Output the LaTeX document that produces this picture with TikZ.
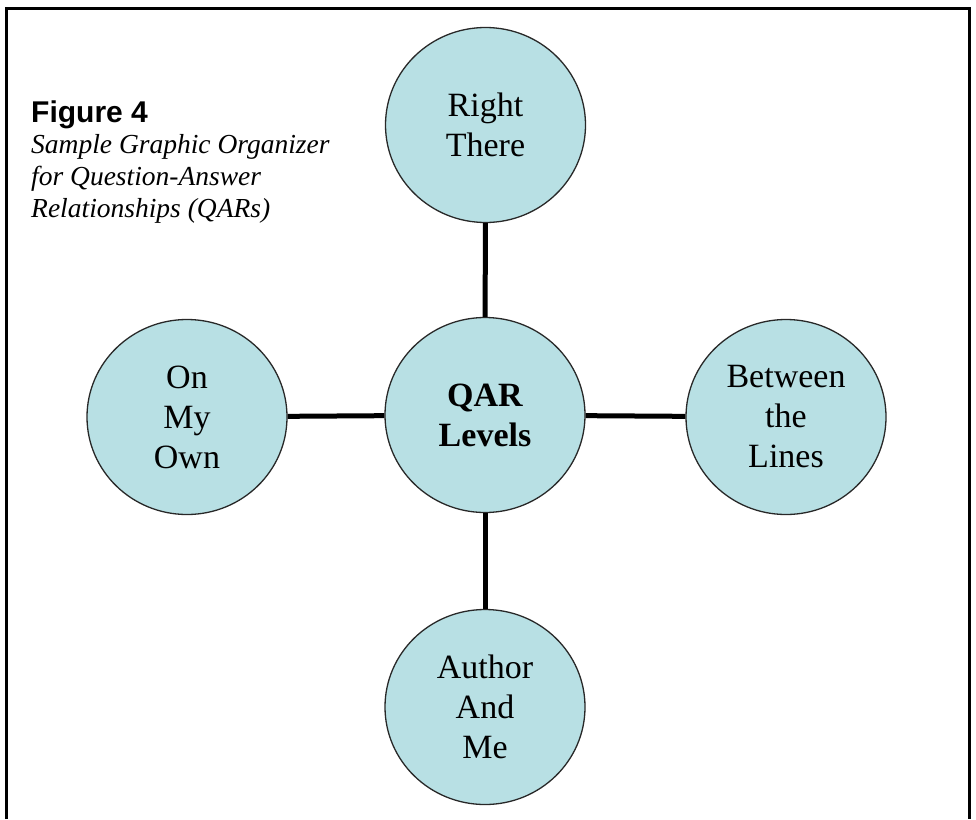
\documentclass[tikz,border=0pt]{standalone}
\usepackage{fontspec}
\setmainfont{Liberation Serif}
\newfontfamily\figsans{Liberation Sans}
\usetikzlibrary{shapes.geometric}
\definecolor{bubble}{RGB}{184,224,228}
\definecolor{rim}{RGB}{40,40,40}
\tikzset{
  bubblenode/.style={ellipse, draw=rim, line width=1.3pt, fill=bubble,
    minimum width=200pt, minimum height=195pt, inner sep=0pt, align=center,
    font=\fontsize{34}{40}\selectfont},
  link/.style={line width=5pt, black},
  frameline/.style={line width=3pt, black},
  titletext/.style={anchor=base west, inner sep=0pt, font=\figsans\bfseries\fontsize{30}{36}\selectfont},
  captext/.style={anchor=base west, inner sep=0pt, font=\itshape\fontsize{27.5}{32}\selectfont}
}
\begin{document}
\begin{tikzpicture}[x=1pt,y=-1pt]
\useasboundingbox (0,0) rectangle (976,819);
% frame, open at the bottom
\coordinate (fbl) at (6.5,819);
\coordinate (ftl) at (6.5,8);
\coordinate (ftr) at (969,8);
\coordinate (fbr) at (969,819);
\draw[frameline] (fbl) -- (ftl) -- (ftr) -- (fbr);
% caption
\node[titletext] (fig) at (31,122) {Figure 4};
\node[captext] (c1) at (31,153) {Sample Graphic Organizer};
\node[captext] (c2) at (31,185) {for Question-Answer};
\node[captext] (c3) at (31,217) {Relationships (QARs)};
% circles
\node[bubblenode] (center) at (485,415) {\bfseries QAR\\\bfseries Levels};
\node[bubblenode] (top) at (485.5,125) {Right\\There};
\node[bubblenode] (left) at (187,417) {On\\My\\Own};
\node[bubblenode] (right) at (786,417) {Between\\the\\Lines};
\node[bubblenode] (bottom) at (485,707) {Author\\And\\Me};
% connectors
\draw[link] (top) -- (center);
\draw[link] (left) -- (center);
\draw[link] (center) -- (right);
\draw[link] (center) -- (bottom);
\end{tikzpicture}
\end{document}
